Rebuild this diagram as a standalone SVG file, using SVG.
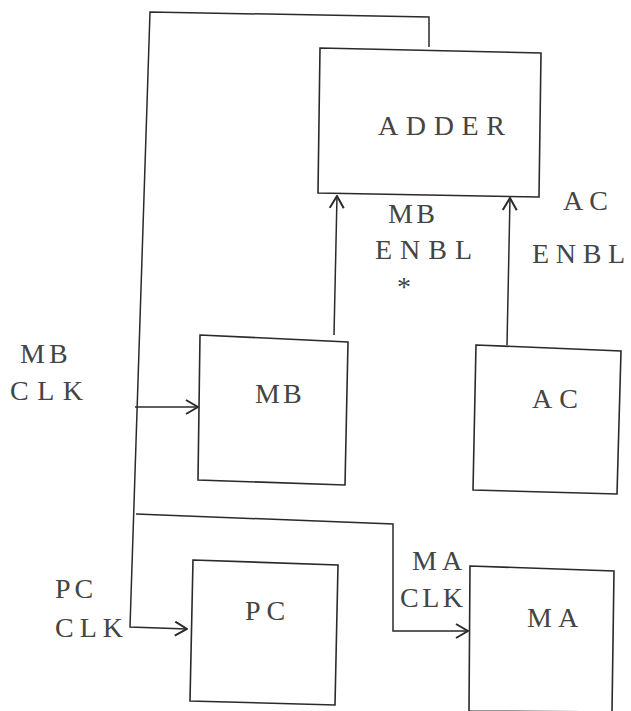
<svg xmlns="http://www.w3.org/2000/svg" width="631" height="711" viewBox="0 0 631 711">
<style>
  .box { fill: none; stroke: #2a2a2a; stroke-width: 1.6; stroke-linejoin: miter; }
  .wire { fill: none; stroke: #2a2a2a; stroke-width: 1.5; }
  .lbl { font-family: "Liberation Serif", "DejaVu Serif", serif; font-size: 28px; fill: #444; }
</style>
<defs>
  <marker id="arr" markerUnits="userSpaceOnUse" viewBox="0 0 14 16" refX="13" refY="8" markerWidth="14" markerHeight="16" orient="auto">
    <path d="M1,1 L13,8 L1,15" fill="none" stroke="#2a2a2a" stroke-width="2"/>
  </marker>
</defs>
<rect width="631" height="711" fill="#fff"/>

<g id="connectors">
  <path class="wire" d="M429,47 L429,17 L150,12 L130,627 L187,629" marker-end="url(#arr)"/>
  <path class="wire" d="M135,407 L198,407" marker-end="url(#arr)"/>
  <path class="wire" d="M334,335 L337,196" marker-end="url(#arr)"/>
  <path class="wire" d="M507,345 L510,198" marker-end="url(#arr)"/>
  <path class="wire" d="M136,514 L393,524 L393,631 L468,631" marker-end="url(#arr)"/>
</g>

<g id="adder">
  <path class="box" d="M320,48 L541,53 L539,197 L318,193 Z"/>
  <text class="lbl" x="378" y="135" letter-spacing="7.6">ADDER</text>
</g>
<g id="mb">
  <path class="box" d="M200,335 L348,342 L345,485 L198,480 Z"/>
  <text class="lbl" x="255" y="403" letter-spacing="3">MB</text>
</g>
<g id="ac">
  <path class="box" d="M476,345 L621,351 L617,494 L473,490 Z"/>
  <text class="lbl" x="532" y="408" letter-spacing="7">AC</text>
</g>
<g id="pc">
  <path class="box" d="M193,560 L338,565 L335,705 L190,701 Z"/>
  <text class="lbl" x="245" y="620" letter-spacing="6">PC</text>
</g>
<g id="ma">
  <path class="box" d="M470,566 L614,571 L612,712 L469,711 Z"/>
  <text class="lbl" x="527" y="627" letter-spacing="6">MA</text>
</g>

<g id="labels">
  <text class="lbl" x="388" y="223" letter-spacing="3.4">MB</text>
  <text class="lbl" x="375" y="259" letter-spacing="8">ENBL</text>
  <text class="lbl" x="397" y="296">*</text>
  <text class="lbl" x="563" y="210" letter-spacing="6">AC</text>
  <text class="lbl" x="532" y="263" letter-spacing="6.7">ENBL</text>
  <text class="lbl" x="20" y="363" letter-spacing="4">MB</text>
  <text class="lbl" x="10" y="400" letter-spacing="8.5">CLK</text>
  <text class="lbl" x="55" y="598" letter-spacing="4">PC</text>
  <text class="lbl" x="55" y="637" letter-spacing="6">CLK</text>
  <text class="lbl" x="412" y="570" letter-spacing="5">MA</text>
  <text class="lbl" x="400" y="607" letter-spacing="3.5">CLK</text>
</g>
</svg>
